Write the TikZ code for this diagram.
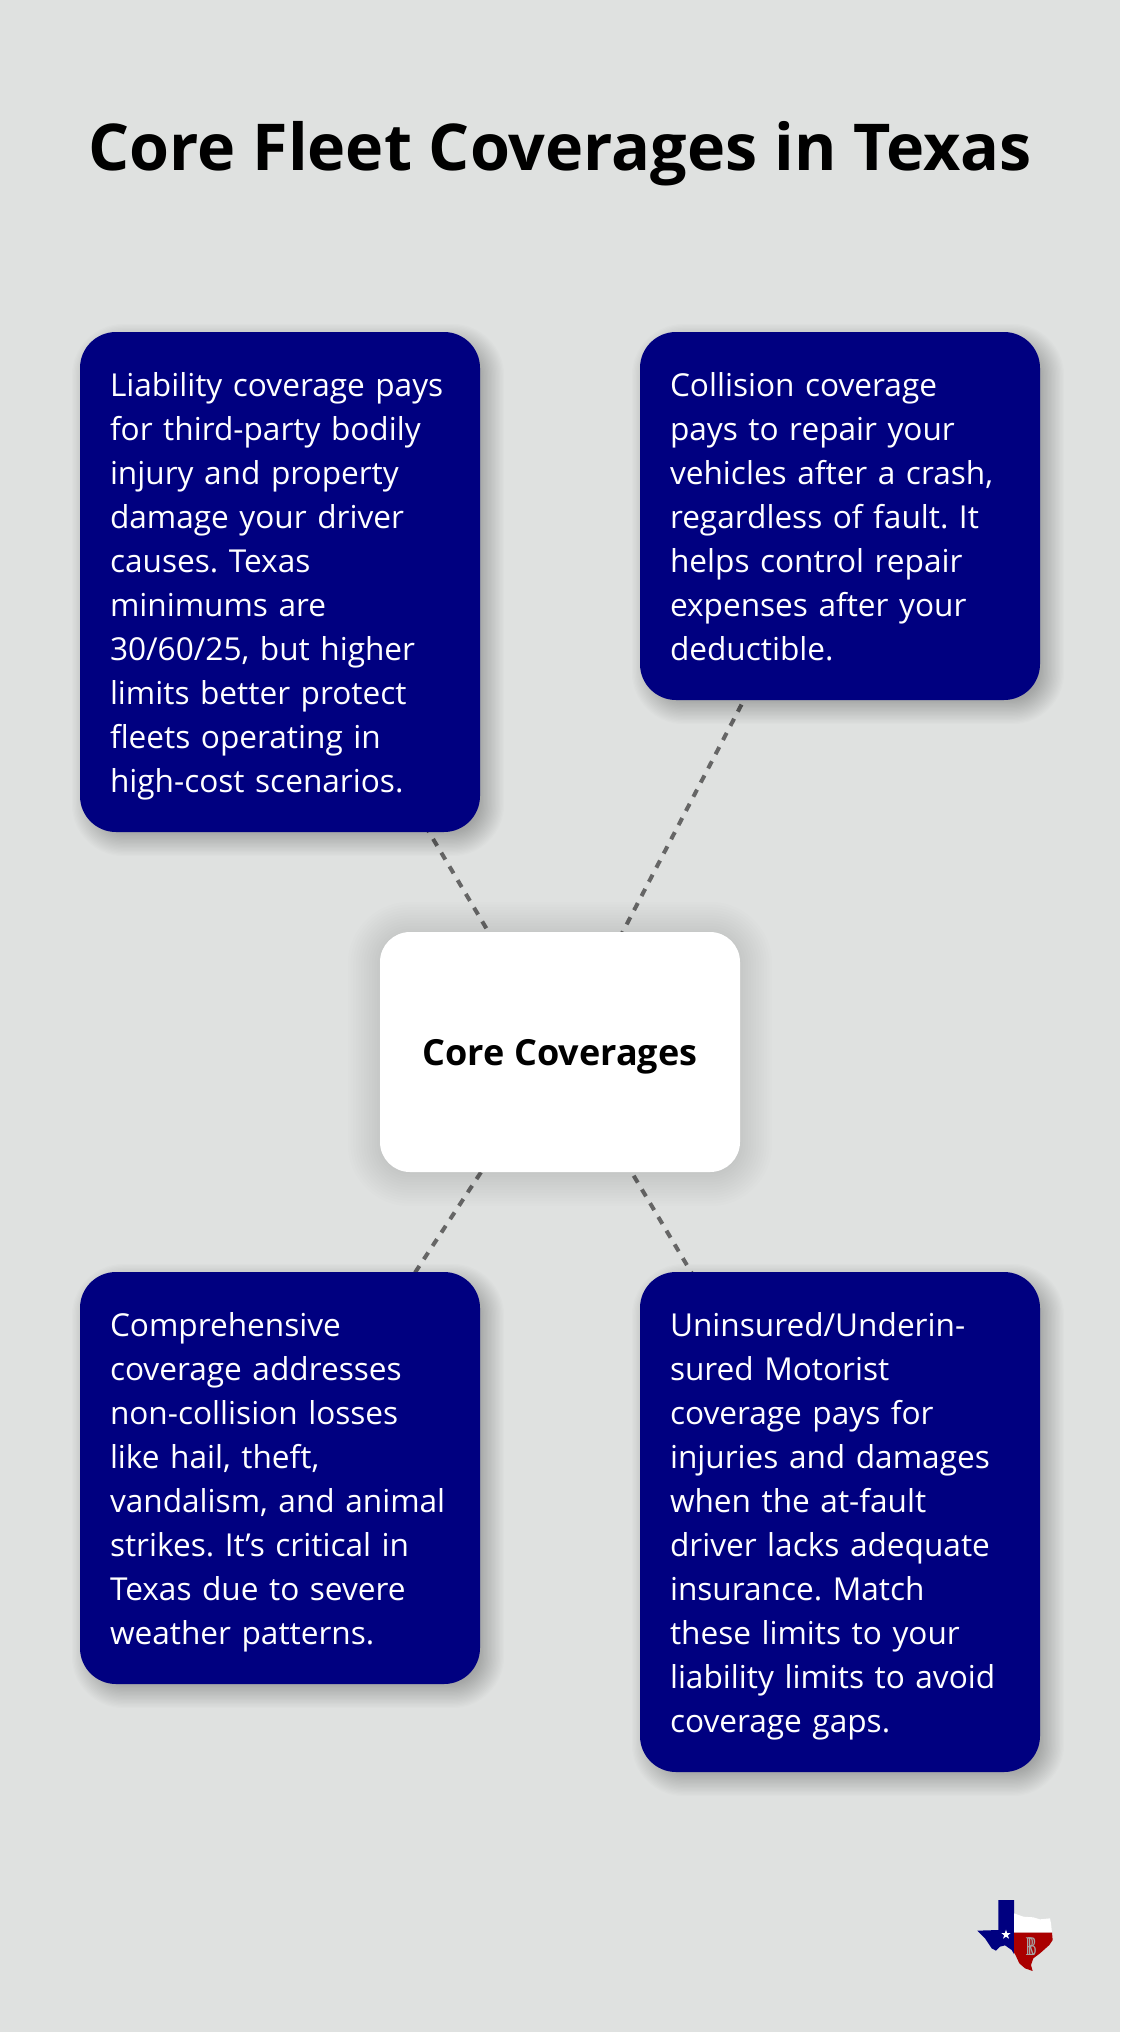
\documentclass[tikz,border=0pt]{standalone}
\usepackage{fontspec}
\setmainfont{Open Sans}
\newfontfamily\monofamily{Liberation Serif}
\usetikzlibrary{calc}
\definecolor{pagegray}{RGB}{223,225,224}
\definecolor{cardnavy}{RGB}{0,0,128}
\definecolor{dashgray}{RGB}{102,102,102}
\definecolor{flagred}{RGB}{170,0,0}
\pgfdeclarelayer{back}
\pgfdeclarelayer{shade}
\pgfsetlayers{back,shade,main}
\tikzset{
    card/.style={fill=cardnavy,text=white,rounded corners=36pt,inner xsep=30pt,inner ysep=0pt,
        text width=340pt,align=left,font=\fontsize{31.6}{44}\selectfont,
        execute at begin node=\rule{0pt}{34pt},execute at end node=\rule[-10pt]{0pt}{10pt}},
    hub/.style={fill=white,rounded corners=30pt,minimum width=360pt,minimum height=240pt,
        text height=27pt,text depth=0pt,font=\fontsize{36}{44}\selectfont\bfseries},
    spoke/.style={draw=dashgray,line width=4pt,dash pattern=on 8pt off 8pt},
}
% node, xshift, yshift, spread, radius, opacity of one sheet
\newcommand{\softshadow}[6]{
    \foreach \k in {0,...,24} {
        \pgfmathsetmacro{\sprd}{-#4+2*#4*\k/24}
        \pgfmathsetmacro{\rad}{max(#5+\sprd,1)}
        \fill[black,opacity=#6,rounded corners=\rad pt]
            ($(#1.north west)+(#2-\sprd,#3-\sprd)$) rectangle ($(#1.south east)+(#2+\sprd,#3+\sprd)$);
    }
}
\begin{document}
\frenchspacing
\begin{tikzpicture}[x=1pt,y=-1pt]
    \useasboundingbox (0,0) rectangle (1120,2032);
    \begin{pgfonlayer}{back}
        \fill[pagegray] (0,0) rectangle (1120,2032);
    \end{pgfonlayer}

    \node[font=\fontsize{64.6}{70}\selectfont\bfseries] (title) at (560,154) {Core Fleet Coverages in Texas};

    \node[hub] (core) at (560,1052) {Core Coverages};

    \node[card,minimum height=500pt] (liability) at (280,582) {Liability coverage pays\\
        for third-party bodily\\ injury and property\\ damage your driver\\ causes. Texas\\
        minimums are\\ 30/60/25, but higher\\ limits better protect\\ fleets operating in\\ high-cost scenarios.};
    \node[card,minimum height=368pt] (collision) at (840,516) {Collision coverage\\
        pays to repair your\\ vehicles after a crash,\\ regardless of fault. It\\ helps control repair\\
        expenses after your\\ deductible.};
    \node[card,minimum height=412pt] (comprehensive) at (280,1478) {Comprehensive\\
        coverage addresses\\ non-collision losses\\ like hail, theft,\\ vandalism, and animal\\
        strikes. It’s critical in\\ Texas due to severe\\ weather patterns.};
    \node[card,minimum height=500pt] (uninsured) at (840,1522) {Uninsured/Underin-\\
        sured Motorist\\ coverage pays for\\ injuries and damages\\ when the at-fault\\
        driver lacks adequate\\ insurance. Match\\ these limits to your\\ liability limits to avoid\\ coverage gaps.};

    \begin{pgfonlayer}{back}
        \foreach \target in {liability,collision,comprehensive,uninsured} {
            \draw[spoke] (core.center) -- (\target.center);
        }
    \end{pgfonlayer}
    \begin{pgfonlayer}{shade}
        \foreach \target in {liability,collision,comprehensive,uninsured} {
            \softshadow{\target}{8}{8}{16}{36}{0.0125}
        }
        \softshadow{core}{0}{2}{32}{30}{0.0065}
    \end{pgfonlayer}

    % logo
    \begin{scope}[shift={(950,1880)},x=0.3333pt,y=-0.3333pt]
        \fill[cardnavy] (145,60) -- (192,60) -- (192,222) -- (185,210) -- (165,196) -- (150,200)
            -- (138,212) -- (125,205) -- (105,175) -- (82,152) -- (145,150) -- cycle;
        \fill[white] (192,100) -- (220,110) -- (250,112) -- (270,118) -- (300,115) -- (303,130)
            -- (306,158) -- (192,158) -- cycle;
        \fill[flagred] (192,158) -- (306,158) -- (308,180) -- (298,195) -- (270,220) -- (250,235)
            -- (243,255) -- (248,273) -- (225,265) -- (208,250) -- (195,222) -- (192,218) -- cycle;
        \fill[white] (168,149) -- (171.5,159) -- (182,159) -- (173.5,166) -- (177,176) -- (168,170)
            -- (159,176) -- (162.5,166) -- (154,159) -- (164.5,159) -- cycle;
    \end{scope}
    \node[text=gray!70!white,inner sep=0pt,xscale=0.5,transform shape,font=\monofamily\fontsize{27}{27}\selectfont] (mono) at (1031,1947) {R\kern-14pt B};
\end{tikzpicture}
\end{document}
